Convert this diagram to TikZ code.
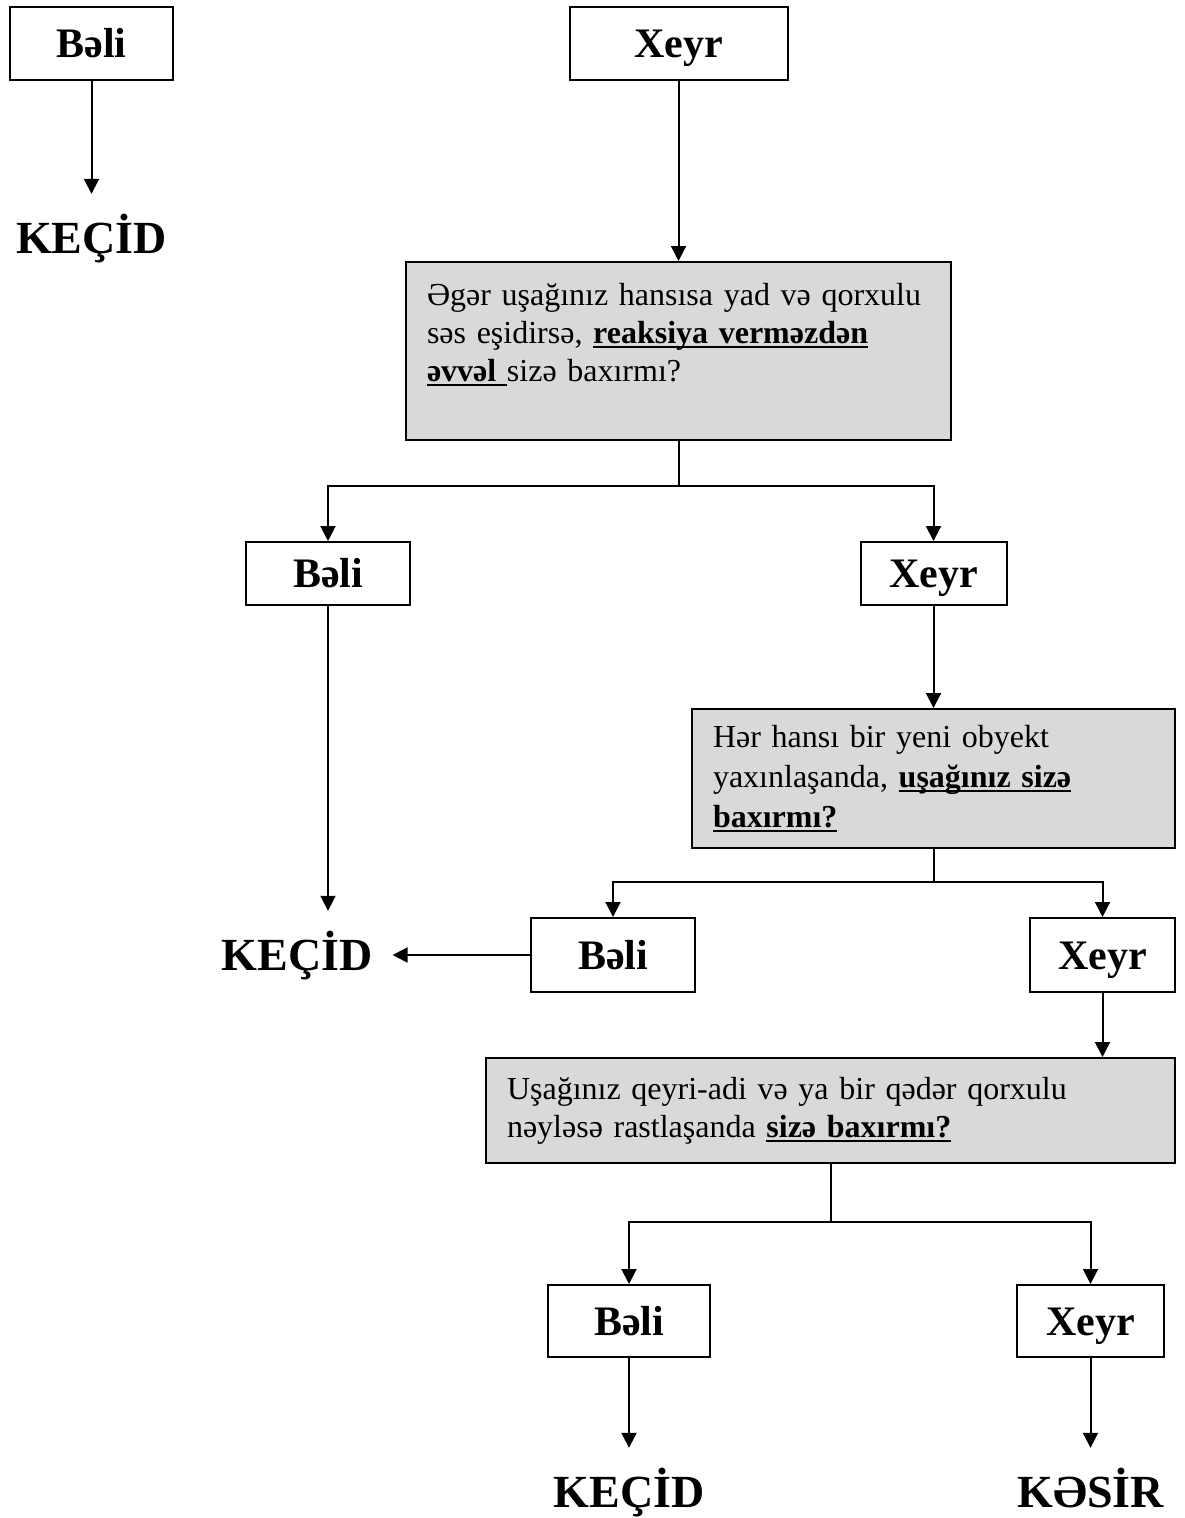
\documentclass[tikz,border=0pt]{standalone}
\usepackage{fontspec}
\setmainfont{Liberation Serif}
\usepackage{xcolor}
\definecolor{boz}{RGB}{217,217,217}
\usepackage{tikz}
\usetikzlibrary{arrows.meta, positioning}
\newsavebox{\xetbox}
\newcommand{\xett}[1]{\leavevmode\sbox{\xetbox}{#1}\mbox{\rlap{\rule[-5pt]{\wd\xetbox}{2.5pt}}\usebox{\xetbox}}}

\begin{document}
\begin{tikzpicture}[x=1pt, y=-1pt,
    cavab/.style={draw, line width=2pt, inner sep=0pt, text height=36pt, text depth=8pt,
        font=\fontsize{42}{48}\selectfont\bfseries},
    sual/.style={draw, line width=2pt, fill=boz, align=left, inner xsep=21pt, inner ysep=0pt,
        font=\fontsize{32}{38}\selectfont},
    netice/.style={inner sep=20pt, text height=39pt, text depth=9pt,
        font=\fontsize{46}{52}\selectfont\bfseries},
    ox/.style={line width=2pt, -{Triangle[length=15pt, width=15pt]}}]
    \useasboundingbox (0,0) rectangle (1185,1518);

    \node[cavab, minimum width=163pt, minimum height=73pt] (b1) at (91.5,43.5) {Bəli};
    \node[netice] (k1) at (91.5,238) {KEÇİD};
    \node[cavab, minimum width=218pt, minimum height=73pt] (x1) at (678.5,43.5) {Xeyr};

    \node[sual, text width=503pt, minimum height=178pt] (s1) at (678.5,351)
        {Əgər uşağınız hansısa yad və qorxulu\\
         səs eşidirsə, \xett{\textbf{reaksiya verməzdən}}\\
         \xett{\textbf{əvvəl }}sizə baxırmı?\\[-12pt]
         \strut};
    \coordinate (c1) at (678.5,486);

    \node[cavab, minimum width=164pt, minimum height=63pt] (b2) at (328,573.5) {Bəli};
    \node[cavab, minimum width=146pt, minimum height=63pt] (x2) at (933.5,573.5) {Xeyr};

    \node[sual, text width=441pt, minimum height=139pt] (s2) at (933.5,778.5)
        {Hər hansı bir yeni obyekt\\[2pt]
         yaxınlaşanda, \xett{\textbf{uşağınız sizə}}\\[2pt]
         \xett{\textbf{baxırmı?}}};
    \coordinate (c2) at (933.5,882);

    \node[netice] (k2) at (297,955) {KEÇİD};
    \node[cavab, minimum width=164pt, minimum height=74pt] (b3) at (613,955) {Bəli};
    \node[cavab, minimum width=145pt, minimum height=74pt] (x3) at (1102.5,955) {Xeyr};

    \node[sual, text width=647pt, minimum height=105pt] (s3) at (830.5,1110.5)
        {Uşağınız qeyri-adi və ya bir qədər qorxulu\\
         nəyləsə rastlaşanda \xett{\textbf{sizə baxırmı?}}};
    \coordinate (c3) at (830.5,1222);

    \node[cavab, minimum width=162pt, minimum height=72pt] (b4) at (629,1321) {Bəli};
    \node[cavab, minimum width=147pt, minimum height=72pt] (x4) at (1090.5,1321) {Xeyr};
    \node[netice] (k3) at (629,1492) {KEÇİD};
    \node[netice] (k4) at (1090.5,1492) {KƏSİR};

    % oxlar
    \draw[ox] (b1) -- (k1);
    \draw[ox] (x1) -- (s1);
    \draw[line width=2pt] (s1) -- (c1);
    \draw[ox] (c1) -| (b2);
    \draw[ox] (c1) -| (x2);
    \draw[ox] (b2) -- (b2 |- k2.north);
    \draw[ox] (x2) -- (s2);
    \draw[line width=2pt] (s2) -- (c2);
    \draw[ox] (c2) -| (b3);
    \draw[ox] (c2) -| (x3);
    \draw[ox] (b3) -- (k2);
    \draw[ox] (x3) -- (x3 |- s3.north);
    \draw[line width=2pt] (s3) -- (c3);
    \draw[ox] (c3) -| (b4);
    \draw[ox] (c3) -| (x4);
    \draw[ox] (b4) -- (k3);
    \draw[ox] (x4) -- (k4);
\end{tikzpicture}
\end{document}
